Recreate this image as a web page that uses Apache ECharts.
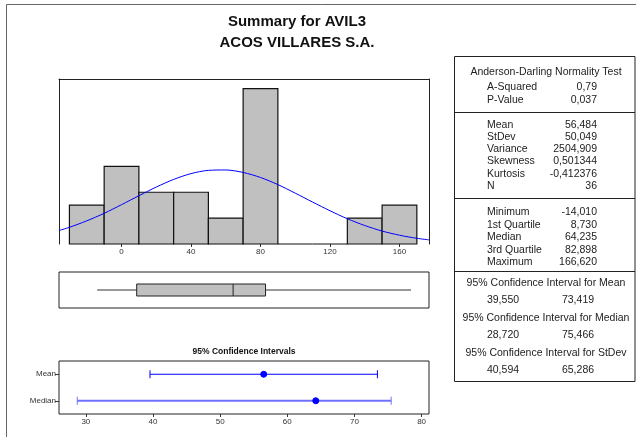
<!DOCTYPE html>
<html><head><meta charset="utf-8">
<script src="https://cdn.jsdelivr.net/npm/echarts@6/dist/echarts.min.js"></script>
<style>html,body{margin:0;padding:0;background:#fff}#c{width:636px;height:437px}</style>
</head><body><div id="c"></div>
<script>
// ---------- data ----------
const titleLines = ['Summary for AVIL3', 'ACOS VILLARES S.A.'];
const binEdges = [-30, -10, 10, 30, 50, 70, 90, 110, 130, 150, 170];
const binCounts = [3, 6, 4, 4, 2, 12, 0, 0, 2, 3];
const histTicks = [0, 40, 80, 120, 160];
const curveX = [-36, -30, -20, -10, 0, 10, 20, 30, 40, 50, 60, 70, 80, 90, 100, 110, 120, 130, 140, 150, 160, 170, 177];
const curveY = [1.04, 1.29, 1.79, 2.37, 3.04, 3.73, 4.40, 4.99, 5.44, 5.69, 5.72, 5.53, 5.14, 4.59, 3.93, 3.24, 2.57, 1.95, 1.43, 1.00, 0.68, 0.44, 0.32];
const boxStats = [-14.01, 8.73, 64.235, 82.898, 166.62];
const ciTitle = '95% Confidence Intervals';
const ciCategories = ['Median', 'Mean'];
const ciLow = [28.72, 39.55];
const ciCenter = [64.235, 56.484];
const ciHigh = [75.466, 73.419];
const ciTicks = [30, 40, 50, 60, 70, 80];
const adTitle = 'Anderson-Darling Normality Test';
const adRows = [['A-Squared', '0,79'], ['P-Value', '0,037']];
const descRows = [['Mean', '56,484'], ['StDev', '50,049'], ['Variance', '2504,909'], ['Skewness', '0,501344'], ['Kurtosis', '-0,412376'], ['N', '36']];
const quartRows = [['Minimum', '-14,010'], ['1st Quartile', '8,730'], ['Median', '64,235'], ['3rd Quartile', '82,898'], ['Maximum', '166,620']];
const ciRows = [
  ['95% Confidence Interval for Mean', '39,550', '73,419'],
  ['95% Confidence Interval for Median', '28,720', '75,466'],
  ['95% Confidence Interval for StDev', '40,594', '65,286']
];

// ---------- layout ----------
const FONT = '"Liberation Sans", Arial, sans-serif';
const TXT = '#222';
const chart = echarts.init(document.getElementById('c'), null, {renderer: 'canvas'});

const graphics = [];
graphics.push({type: 'rect', shape: {x: 6.5, y: 4.5, width: 640, height: 440}, style: {fill: 'none', stroke: '#666', lineWidth: 1}, silent: true});
titleLines.forEach((t, i) => graphics.push({type: 'text', style: {text: t, x: 297, y: 22 + i * 21, textAlign: 'center', textVerticalAlign: 'middle', font: 'bold 15px ' + FONT, fill: '#111'}}));
graphics.push({type: 'text', style: {text: ciTitle, x: 244, y: 352, textAlign: 'center', textVerticalAlign: 'middle', font: 'bold 8.5px ' + FONT, fill: '#111'}});

const TL = 454.5, TR = 635, TT = 56.5, TB = 381.5;
graphics.push({type: 'rect', shape: {x: TL, y: TT, width: TR - TL, height: TB - TT}, style: {fill: 'none', stroke: '#222', lineWidth: 1}});
const tf = '10.5px ' + FONT;
function txt(t, x, y, align) {
  graphics.push({type: 'text', style: {text: t, x: x, y: y, textAlign: align, textVerticalAlign: 'middle', font: tf, fill: TXT}});
}
function sep(y) {
  graphics.push({type: 'line', shape: {x1: TL, y1: y, x2: TR, y2: y}, style: {stroke: '#222', lineWidth: 1}});
}
const LX = 487, VX = 597, MID = 546;
txt(adTitle, MID, 72, 'center');
adRows.forEach((r, i) => { txt(r[0], LX, 87 + i * 13.5, 'left'); txt(r[1], VX, 87 + i * 13.5, 'right'); });
sep(112.5);
descRows.forEach((r, i) => { txt(r[0], LX, 125 + i * 12.2, 'left'); txt(r[1], VX, 125 + i * 12.2, 'right'); });
sep(198.5);
quartRows.forEach((r, i) => { txt(r[0], LX, 212.5 + i * 12.5, 'left'); txt(r[1], VX, 212.5 + i * 12.5, 'right'); });
sep(271.5);
ciRows.forEach((r, i) => {
  const y = 283 + i * 35;
  txt(r[0], MID, y, 'center');
  txt(r[1], 503, y + 17.5, 'center');
  txt(r[2], 578, y + 17.5, 'center');
});

// ---------- render functions ----------
function renderBar(params, api) {
  const p0 = api.coord([api.value(0), 0]);
  const p1 = api.coord([api.value(1), api.value(2)]);
  return {type: 'rect', shape: {x: p0[0], y: p1[1], width: p1[0] - p0[0], height: p0[1] - p1[1]},
    style: {fill: '#c0c0c0', stroke: '#111', lineWidth: 1.2}};
}
function renderBox(params, api) {
  const v = [0, 1, 2, 3, 4].map(i => api.coord([api.value(i), 0.5]));
  const y = v[0][1], h = 12;
  const ls = {stroke: '#333', lineWidth: 1};
  return {type: 'group', children: [
    {type: 'line', shape: {x1: v[0][0], y1: y, x2: v[1][0], y2: y}, style: ls},
    {type: 'line', shape: {x1: v[3][0], y1: y, x2: v[4][0], y2: y}, style: ls},
    {type: 'rect', shape: {x: v[1][0], y: y - h / 2, width: v[3][0] - v[1][0], height: h}, style: {fill: '#c0c0c0', stroke: '#222', lineWidth: 1}},
    {type: 'line', shape: {x1: v[2][0], y1: y - h / 2, x2: v[2][0], y2: y + h / 2}, style: {stroke: '#222', lineWidth: 1}}
  ]};
}
function renderCI(params, api) {
  const cat = api.value(3);
  const a = api.coord([api.value(0), cat]);
  const b = api.coord([api.value(1), cat]);
  const c = api.coord([api.value(2), cat]);
  const isMedian = params.dataIndex === 0;
  const col = isMedian ? '#7070ff' : '#0000ff';
  const lw = isMedian ? 2 : 1;
  const hh = 4;
  return {type: 'group', children: [
    {type: 'line', shape: {x1: a[0], y1: a[1], x2: b[0], y2: b[1]}, style: {stroke: col, lineWidth: lw}},
    {type: 'line', shape: {x1: a[0], y1: a[1] - hh, x2: a[0], y2: a[1] + hh}, style: {stroke: col, lineWidth: 1}},
    {type: 'line', shape: {x1: b[0], y1: b[1] - hh, x2: b[0], y2: b[1] + hh}, style: {stroke: col, lineWidth: 1}},
    {type: 'circle', shape: {cx: c[0], cy: c[1], r: 3}, style: {fill: '#0000ff', stroke: '#0000ff', lineWidth: 1}}
  ]};
}

const axisTxt = {fontSize: 8, color: '#333', fontFamily: FONT};
const frameLine = {show: true, onZero: false, lineStyle: {color: '#222'}};

chart.setOption({
  animation: false,
  backgroundColor: '#fff',
  graphic: graphics,
  grid: [
    {left: 59, top: 79, width: 370, height: 165, show: false},
    {left: 59, top: 272, width: 370, height: 36, show: true, borderColor: '#222', borderWidth: 1, backgroundColor: 'transparent'},
    {left: 59, top: 361, width: 370, height: 53, show: true, borderColor: '#222', borderWidth: 1, backgroundColor: 'transparent'}
  ],
  xAxis: [
    {gridIndex: 0, type: 'value', min: -36, max: 177, position: 'bottom',
      axisLine: {show: false, onZero: false}, splitLine: {show: false},
      axisTick: {show: true, length: 3, lineStyle: {color: '#333'}, customValues: histTicks},
      axisLabel: Object.assign({margin: 4, customValues: histTicks}, axisTxt)},
    {gridIndex: 0, type: 'value', min: -36, max: 177, position: 'top',
      axisLine: frameLine, axisTick: {show: false}, axisLabel: {show: false}, splitLine: {show: false}},
    {gridIndex: 1, type: 'value', min: -36, max: 177, show: false},
    {gridIndex: 2, type: 'value', min: 26, max: 81.1,
      axisLine: {show: false, onZero: false}, splitLine: {show: false},
      axisTick: {show: true, length: 3, lineStyle: {color: '#333'}, customValues: ciTicks},
      axisLabel: Object.assign({margin: 4, customValues: ciTicks}, axisTxt)}
  ],
  yAxis: [
    {gridIndex: 0, type: 'value', min: 0, max: 12.75, position: 'left',
      axisLine: frameLine, axisTick: {show: false}, axisLabel: {show: false}, splitLine: {show: false}},
    {gridIndex: 0, type: 'value', min: 0, max: 12.75, position: 'right',
      axisLine: frameLine, axisTick: {show: false}, axisLabel: {show: false}, splitLine: {show: false}},
    {gridIndex: 1, type: 'value', min: 0, max: 1, show: false},
    {gridIndex: 2, type: 'category', data: ciCategories,
      axisLine: {show: false, onZero: false},
      axisTick: {show: true, length: 4, alignWithLabel: true, lineStyle: {color: '#333'}},
      axisLabel: Object.assign({margin: 3}, axisTxt), splitLine: {show: false}}
  ],
  series: [
    {type: 'custom', xAxisIndex: 0, yAxisIndex: 0, renderItem: renderBar, z: 2,
      encode: {x: [0, 1], y: 2},
      data: binCounts.map((c, i) => [binEdges[i], binEdges[i + 1], c])},
    {type: 'line', xAxisIndex: 0, yAxisIndex: 0, z: 3, smooth: 0.3, showSymbol: false, symbol: 'none',
      lineStyle: {color: '#0000ff', width: 1}, clip: true,
      data: curveX.map((x, i) => [x, curveY[i]])},
    {type: 'custom', xAxisIndex: 2, yAxisIndex: 2, renderItem: renderBox, encode: {x: [0, 1, 2, 3, 4]},
      data: [boxStats]},
    {type: 'custom', xAxisIndex: 3, yAxisIndex: 3, renderItem: renderCI, encode: {x: [0, 1, 2], y: 3},
      data: ciCategories.map((c, i) => [ciLow[i], ciHigh[i], ciCenter[i], i])}
  ]
});
</script></body></html>
